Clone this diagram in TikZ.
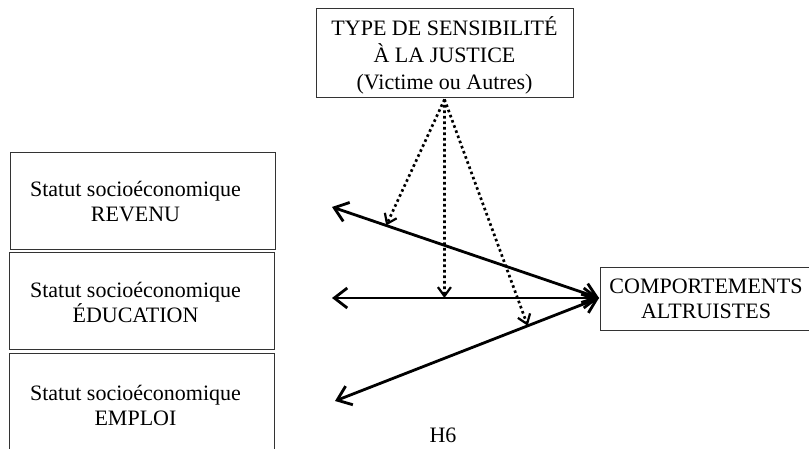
\documentclass[tikz,border=0pt]{standalone}
\usepackage{fontspec}
\setmainfont{Liberation Serif}
\usetikzlibrary{arrows.meta,calc}
\begin{document}
\begin{tikzpicture}[x=1pt,y=-1pt,
  box/.style={draw=black!80,line width=0.9pt,rectangle,inner sep=0pt,align=center,
    font=\fontsize{22}{25}\selectfont},
  solidarrow/.style={line width=2.8pt,{Straight Barb[length=13pt,width=20pt,line width=2.8pt]}-{Straight Barb[length=13pt,width=20pt,line width=2.8pt]}},
  dotarrow/.style={line width=2.7pt,dash pattern=on 2.6pt off 2.9pt,-{Straight Barb[length=9pt,width=13pt,line width=2.2pt]}},
  lbl/.style={align=center,inner sep=0pt,font=\fontsize{22}{25}\selectfont}
]
\useasboundingbox (0,0) rectangle (809,449);
\clip (0,0) rectangle (809,449);
\node[box,minimum width=257pt,minimum height=89pt] (top) at (444.5,52.5) {};
\node[lbl,font=\fontsize{22}{27}\selectfont] (topt) at (444.5,55) 
  {TYPE DE SENSIBILITÉ\\À LA JUSTICE\\(Victime ou Autres)};
\node[box,minimum width=265pt,minimum height=97pt] (rev) at (142.5,200.5) {};
\node[lbl] (revt) at (135.5,202) {Statut socioéconomique\\REVENU};
\node[box,minimum width=265pt,minimum height=97pt] (edu) at (141.5,300.5) {};
\node[lbl] (edut) at (135.5,302) {Statut socioéconomique\\ÉDUCATION};
\node[box,minimum width=265pt,minimum height=104pt] (emp) at (141.5,405) {};
\node[lbl] (empt) at (135.5,405) {Statut socioéconomique\\EMPLOI};
\node[box,minimum width=212pt,minimum height=63pt,text width=212pt] (alt) at (706,298.5)
  {COMPORTEMENTS\\ALTRUISTES};
\coordinate (c) at (599,298);
\coordinate (t1) at (332,207);
\coordinate (t2) at (332,298);
\coordinate (t3) at (335,401);
\draw[solidarrow] (t1) -- (c);
\draw[solidarrow] (t2) -- (c);
\draw[solidarrow] (t3) -- (c);
\coordinate (s) at ($(top.south)+(0,2)$);
\coordinate (d1) at ($(c)!0.797!(t1)$);
\coordinate (d2) at ($(c)!0.579!(t2)$);
\coordinate (d3) at ($(c)!0.27!(t3)$);
\draw[dotarrow] (s) -- (d1);
\draw[dotarrow] (s) -- (d2);
\draw[dotarrow] (s) -- (d3);
\node[lbl] (h6) at (443,435) {H6};
\end{tikzpicture}
\end{document}
